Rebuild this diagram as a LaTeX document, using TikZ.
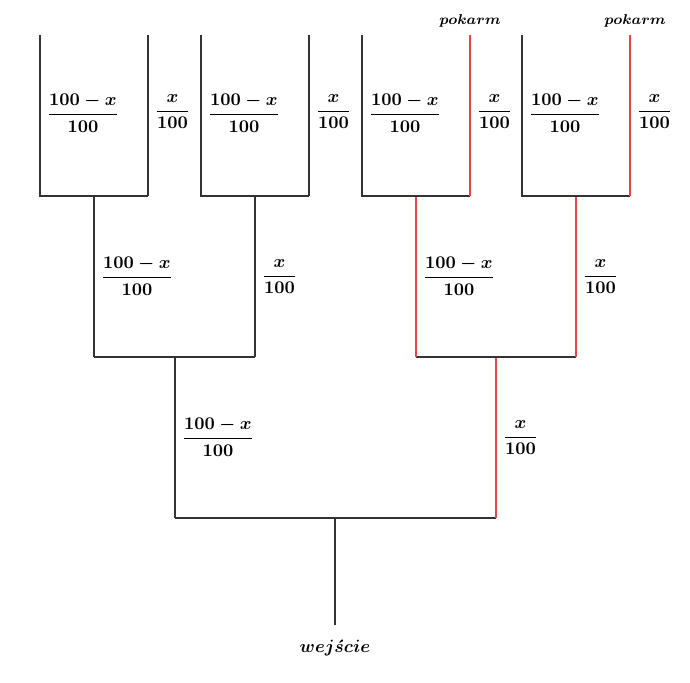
\documentclass[tikz,border=0pt]{standalone}
\usepackage{amsmath,bm}
\usetikzlibrary{calc}
\definecolor{wallgray}{HTML}{333333}
\definecolor{foodred}{HTML}{E04848}
\tikzset{
  wall/.style={draw=wallgray, line width=1.2pt},
  food/.style={draw=foodred, line width=1.2pt},
  prob/.style={anchor=west, inner sep=2pt, font=\boldmath},
}
\begin{document}
\begin{tikzpicture}[x=0.56pt, y=0.56pt]
\useasboundingbox (0,0) rectangle (690,682);
% entrance and first fork
\coordinate (in) at (335,57);
\coordinate (r) at (335,164);
\coordinate (rL) at (175,164);
\coordinate (rR) at (496,164);
% second level
\coordinate (aL) at (175,325);
\coordinate (aR) at (496,325);
\coordinate (aLL) at (94,325);
\coordinate (aLR) at (255,325);
\coordinate (aRL) at (416,325);
\coordinate (aRR) at (576,325);
% top boxes
\foreach \c/\n in {94/a,255/b,416/c,576/d}{
  \coordinate (\n) at (\c,486);
  \coordinate (\n-l) at (\c-54,486);
  \coordinate (\n-r) at (\c+54,486);
  \coordinate (\n-lt) at (\c-54,647);
  \coordinate (\n-rt) at (\c+54,647);
}
\draw[wall] (in) -- (r);
\draw[wall] (rL) -- (rR);
\draw[wall] (rL) -- (aL);
\draw[food] (rR) -- (aR);
\draw[wall] (aLL) -- (aLR);
\draw[wall] (aRL) -- (aRR);
\draw[wall] (aLL) -- (a);
\draw[wall] (aLR) -- (b);
\draw[food] (aRL) -- (c);
\draw[food] (aRR) -- (d);
\foreach \n in {a,b,c,d}{
  \draw[wall] (\n-lt) -- (\n-l) -- (\n-r);
}
\draw[wall] (a-r) -- (a-rt);
\draw[wall] (b-r) -- (b-rt);
\draw[food] (c-r) -- (c-rt);
\draw[food] (d-r) -- (d-rt);
% probabilities
\node[prob] (p1L) at ($(rL)!0.5!(aL)+(3,0)$) {$\dfrac{100-x}{100}$};
\node[prob] (p1R) at ($(rR)!0.5!(aR)+(3,0)$) {$\dfrac{x}{100}$};
\node[prob] (p2LL) at ($(aLL)!0.5!(a)+(3,0)$) {$\dfrac{100-x}{100}$};
\node[prob] (p2LR) at ($(aLR)!0.5!(b)+(3,0)$) {$\dfrac{x}{100}$};
\node[prob] (p2RL) at ($(aRL)!0.5!(c)+(3,0)$) {$\dfrac{100-x}{100}$};
\node[prob] (p2RR) at ($(aRR)!0.5!(d)+(3,0)$) {$\dfrac{x}{100}$};
\foreach \n in {a,b,c,d}{
  \node[prob] (p3\n-l) at ($(\n-l)!0.5!(\n-lt)+(3,2)$) {$\dfrac{100-x}{100}$};
  \node[prob] (p3\n-r) at ($(\n-r)!0.5!(\n-rt)+(3,4)$) {$\dfrac{x}{100}$};
}
% labels
\node[font=\footnotesize] (foodC) at ($(c-rt)+(0,14)$) {$\bm{pokarm}$};
\node[font=\footnotesize] (foodD) at ($(d-rt)+(5,14)$) {$\bm{pokarm}$};
\node (entry) at ($(in)+(0,-23)$) {$\bm{wej\acute{s}cie}$};
\end{tikzpicture}
\end{document}
